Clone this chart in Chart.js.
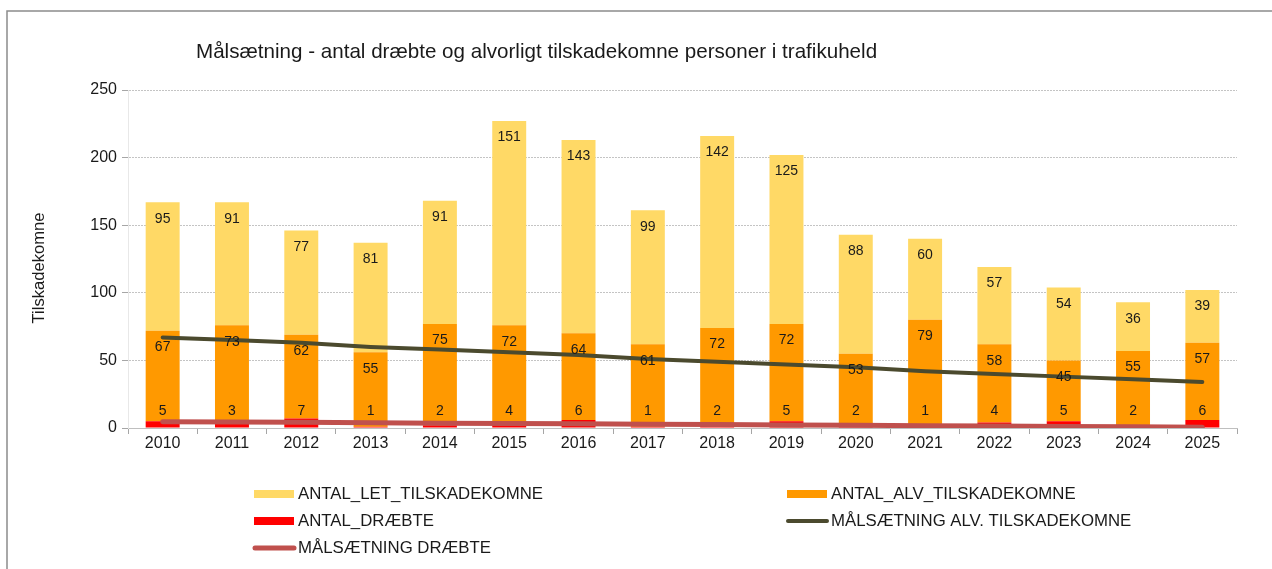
<!DOCTYPE html>
<html>
<head>
<meta charset="utf-8">
<script src="https://cdn.jsdelivr.net/npm/chart.js@4"></script>
<style>
  html, body { margin: 0; padding: 0; background: #fff; }
  #wrap { width: 1272px; height: 569px; }
</style>
</head>
<body>
<div id="wrap"><canvas id="chart" width="1272" height="569"></canvas></div>
<script>
const years = ['2010', '2011', '2012', '2013', '2014', '2015', '2016', '2017', '2018', '2019', '2020', '2021', '2022', '2023', '2024', '2025']
const antalDraebte = [5, 3, 7, 1, 2, 4, 6, 1, 2, 5, 2, 1, 4, 5, 2, 6]
const antalAlv = [67, 73, 62, 55, 75, 72, 64, 61, 72, 72, 53, 79, 58, 45, 55, 57]
const antalLet = [95, 91, 77, 81, 91, 151, 143, 99, 142, 125, 88, 60, 57, 54, 36, 39]
const maalAlv = [67, 65, 63, 60, 58, 56, 54, 51, 49, 47, 45, 42, 40, 38, 36, 34]
const maalDraebte = [4.7, 4.4, 4.2, 3.9, 3.6, 3.3, 3.1, 2.8, 2.5, 2.2, 2.0, 1.7, 1.4, 1.2, 0.9, 0.6]
const yTicks = [0, 50, 100, 150, 200, 250]

const FONT = "'Liberation Sans', Arial, sans-serif"
const TEXT = '#1a1a1a'

// legend is laid out in two columns like the original
const legendSlots = [
  { ds: 2, col: 0, row: 0 },
  { ds: 1, col: 1, row: 0 },
  { ds: 0, col: 0, row: 1 },
  { ds: 4, col: 1, row: 1 },
  { ds: 3, col: 0, row: 2 }
]

const decorPlugin = {
  id: 'decor',
  beforeDraw(chart) {
    const ctx = chart.ctx
    ctx.save()
    ctx.strokeStyle = '#8c8c8c'
    ctx.lineWidth = 1.5
    ctx.strokeRect(7, 11, 1300, 600)
    ctx.restore()
  },
  afterDatasetsDraw(chart) {
    const ctx = chart.ctx
    ctx.save()
    // value labels on bar segments
    ctx.font = '14px ' + FONT
    ctx.fillStyle = TEXT
    ctx.textAlign = 'center'
    ctx.textBaseline = 'middle'
    ;[0, 1, 2].forEach((i) => {
      const meta = chart.getDatasetMeta(i)
      const values = chart.data.datasets[i].data
      meta.data.forEach((bar, j) => {
        const y = Math.min(bar.y + 16.5, bar.base - 16.5)
        ctx.fillText(String(values[j]), bar.x, y)
      })
    })
    ctx.restore()
  },
  afterDraw(chart) {
    const ctx = chart.ctx
    ctx.save()
    ctx.fillStyle = TEXT
    ctx.textBaseline = 'middle'
    ctx.textAlign = 'left'
    ctx.font = '20.6px ' + FONT
    ctx.fillText('Målsætning - antal dræbte og alvorligt tilskadekomne personer i trafikuheld', 196, 52)

    // y axis title
    ctx.save()
    ctx.translate(39, 268)
    ctx.rotate(-Math.PI / 2)
    ctx.textAlign = 'center'
    ctx.font = '16.6px ' + FONT
    ctx.fillText('Tilskadekomne', 0, 0)
    ctx.restore()

    // legend
    ctx.font = '16.8px ' + FONT
    const colX = [254, 787]
    const rowY = [494, 521, 548]
    legendSlots.forEach((s) => {
      const ds = chart.data.datasets[s.ds]
      const x = colX[s.col]
      const y = rowY[s.row]
      if (ds.type === 'line') {
        ctx.strokeStyle = ds.borderColor
        ctx.lineWidth = ds.borderWidth
        ctx.lineCap = 'round'
        ctx.beginPath()
        ctx.moveTo(x + 1, y)
        ctx.lineTo(x + 40, y)
        ctx.stroke()
      } else {
        ctx.fillStyle = ds.backgroundColor
        ctx.fillRect(x, y - 4, 40, 8)
      }
      ctx.fillStyle = TEXT
      ctx.fillText(ds.label, x + 44, y)
    })
    ctx.restore()
  }
}

new Chart(document.getElementById('chart'), {
  type: 'bar',
  data: {
    labels: years,
    datasets: [
      { label: 'ANTAL_DRÆBTE', data: antalDraebte, backgroundColor: '#ff0000', stack: 'bars', order: 1 },
      { label: 'ANTAL_ALV_TILSKADEKOMNE', data: antalAlv, backgroundColor: '#ff9900', stack: 'bars', order: 1 },
      { label: 'ANTAL_LET_TILSKADEKOMNE', data: antalLet, backgroundColor: '#ffd966', stack: 'bars', order: 1 },
      {
        type: 'line', label: 'MÅLSÆTNING DRÆBTE', data: maalDraebte, stack: 'maalD', order: 0,
        borderColor: '#c0504d', borderWidth: 5, borderCapStyle: 'round', pointRadius: 0, tension: 0, fill: false
      },
      {
        type: 'line', label: 'MÅLSÆTNING ALV. TILSKADEKOMNE', data: maalAlv, stack: 'maalA', order: 0,
        borderColor: '#4b4a2e', borderWidth: 4, borderCapStyle: 'round', pointRadius: 0, tension: 0, fill: false
      }
    ]
  },
  options: {
    responsive: false,
    animation: false,
    layout: { padding: { top: 90, right: 35, left: 0, bottom: 0 } },
    datasets: { bar: { barPercentage: 0.49, categoryPercentage: 1 } },
    plugins: {
      legend: { display: false },
      tooltip: { enabled: false },
      title: { display: false }
    },
    scales: {
      x: {
        stacked: true,
        afterFit: (scale) => { scale.height = 141 },
        grid: { offset: true, drawOnChartArea: false, color: '#a6a6a6', tickLength: 6 },
        border: { color: '#bfbfbf', width: 1 },
        ticks: { color: TEXT, font: { family: FONT, size: 16 }, padding: 0, maxRotation: 0 }
      },
      y: {
        stacked: true,
        min: 0,
        max: 250,
        afterFit: (scale) => { scale.width = 128 },
        afterBuildTicks: (scale) => { scale.ticks = yTicks.map((v) => ({ value: v })) },
        grid: { color: '#c4c4c4', tickLength: 6, tickColor: '#a6a6a6', tickBorderDash: [] },
        border: { color: '#e8e8e8', dash: [2, 1] },
        ticks: { color: TEXT, font: { family: FONT, size: 16 }, padding: 5 }
      }
    }
  },
  plugins: [decorPlugin]
})
</script>
</body>
</html>
